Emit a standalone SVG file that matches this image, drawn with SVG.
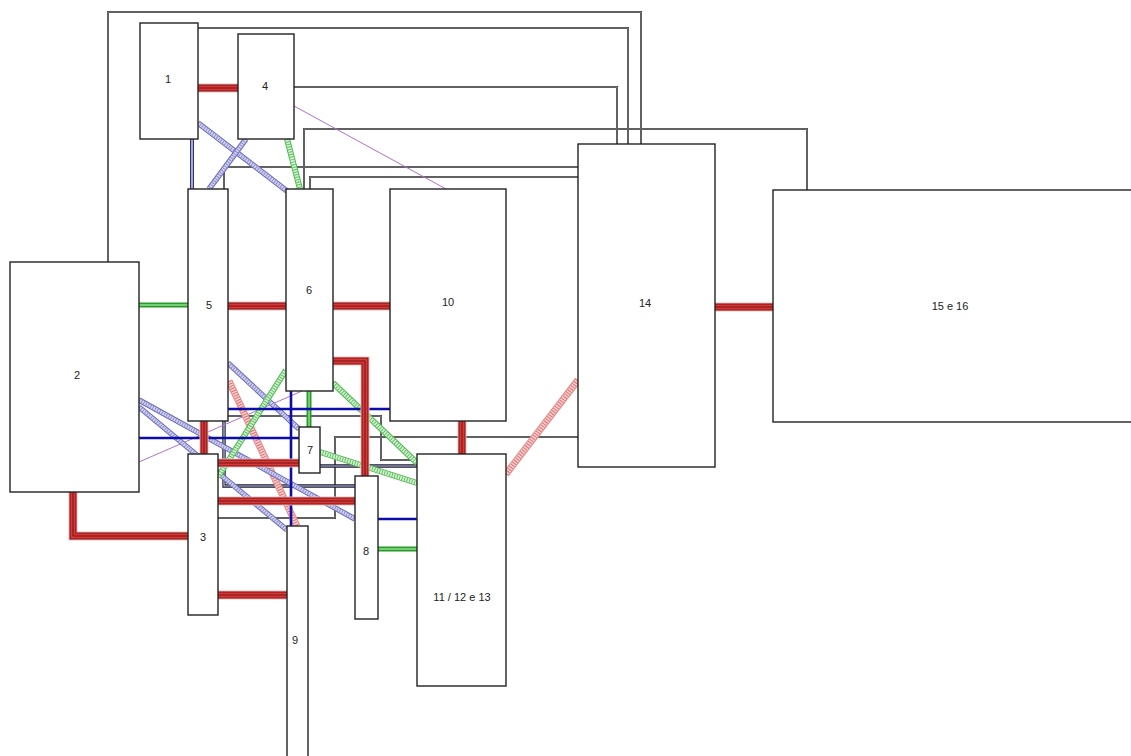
<svg xmlns="http://www.w3.org/2000/svg" xmlns:xlink="http://www.w3.org/1999/xlink" width="1131" height="756" viewBox="0 0 1131 756">
<style>
.node rect{fill:#fff;stroke:#222;stroke-width:1.4}
.node text{font-family:"Liberation Sans",Arial,sans-serif;font-size:11px;fill:#222;text-anchor:middle;dominant-baseline:middle}
path,use{fill:none}
.g0{stroke:#444;stroke-width:2}
.g1{stroke:#aaa;stroke-width:0.6}
.k0{stroke:#1a1a3a;stroke-width:3.4}
.k1{stroke:#c8c8d4;stroke-width:1.2}
.r0{stroke:#f4b8b8;stroke-width:9}
.r1{stroke:#6e1717;stroke-width:7}
.r2{stroke:#e03535;stroke-width:5}
.r3{stroke:#6e1717;stroke-width:1}
.ph0{stroke:#e38a8a;stroke-width:7}
.ph1{stroke:#f8d0d0;stroke-width:5}
.ph2{stroke:#e07070;stroke-width:5;stroke-dasharray:1 1.6}
.gh0{stroke:#4cb84c;stroke-width:6}
.gh1{stroke:#d8f2d8;stroke-width:4}
.gh2{stroke:#5cc05c;stroke-width:4;stroke-dasharray:1 1.6}
.bh0{stroke:#6a6ab8;stroke-width:5.5}
.bh1{stroke:#d4d4ee;stroke-width:3.5}
.bh2{stroke:#8a8ad0;stroke-width:3.5;stroke-dasharray:1 1.6}
.gs0{stroke:#2a9a2a;stroke-width:5}
.gs1{stroke:#8fe08f;stroke-width:1.4}
.bs{stroke:#0c0ca8;stroke-width:2.6}
.bd0{stroke:#303080;stroke-width:4}
.bd1{stroke:#c8c8e0;stroke-width:1.6}
.pu{stroke:#b070d0;stroke-width:1}
</style>
<defs>
<path id="g1" d="M108,262 V12 H641 V144"/>
<path id="g2" d="M198,28 H628 V144"/>
<path id="g3" d="M294,87 H617 V144"/>
<path id="g4" d="M304,189 V129 H807 V190"/>
<path id="g5" d="M224,189 V167 H578"/>
<path id="g6" d="M310,189 V177 H578"/>
<path id="g7" d="M218,518 H335 V437 H578"/>
<path id="g8" d="M228,416 H381 V460 H417"/>
<path id="k9" d="M320,466 H417"/>
<path id="k10" d="M224,421 V486 H355"/>
<path id="r1" d="M198,88 H238"/>
<path id="r2" d="M228,306 H286"/>
<path id="r3" d="M333,306 H390"/>
<path id="r4" d="M715,307 H773"/>
<path id="r5" d="M333,361 H365 V476"/>
<path id="r6" d="M462,421 V454"/>
<path id="r7" d="M73,492 V536 H188"/>
<path id="r8" d="M218,595 H287"/>
<path id="r9" d="M204,421 V454"/>
<path id="r10" d="M218,463 H299"/>
<path id="r11" d="M218,501 H355"/>
<path id="ph1" d="M506,474 L578,380"/>
<path id="ph2" d="M229,381 L297,526"/>
<path id="gh1" d="M287,139 L300,189"/>
<path id="gh2" d="M218,477 L286,370"/>
<path id="gh3" d="M333,383 L417,463"/>
<path id="gh4" d="M320,452 L417,483"/>
<path id="gs1" d="M139,305 H188"/>
<path id="gs2" d="M309,391 V427"/>
<path id="gs3" d="M378,549 H417"/>
<path id="bh1" d="M198,123 L287,191"/>
<path id="bh2" d="M246,139 L209,189"/>
<path id="bh3" d="M139,400 L355,519"/>
<path id="bh4" d="M139,407 L287,530"/>
<path id="bh5" d="M228,363 L299,429"/>
<path id="bd1" d="M192,139 V189"/>
</defs>
<rect width="1131" height="756" fill="#fff"/>
<g id="connectors">
<use href="#g1" class="g0"/><use href="#g1" class="g1"/>
<use href="#g2" class="g0"/><use href="#g2" class="g1"/>
<use href="#g3" class="g0"/><use href="#g3" class="g1"/>
<use href="#g4" class="g0"/><use href="#g4" class="g1"/>
<use href="#g5" class="g0"/><use href="#g5" class="g1"/>
<use href="#g6" class="g0"/><use href="#g6" class="g1"/>
<use href="#g7" class="g0"/><use href="#g7" class="g1"/>
<use href="#g8" class="g0"/><use href="#g8" class="g1"/>
<use href="#k9" class="k0"/><use href="#k9" class="k1"/>
<use href="#k10" class="k0"/><use href="#k10" class="k1"/>
<path class="pu" d="M294,106 L446,189"/>
<path class="pu" d="M139,462 L302,391"/>
<use href="#ph1" class="ph0"/><use href="#ph1" class="ph1"/><use href="#ph1" class="ph2"/>
<use href="#ph2" class="ph0"/><use href="#ph2" class="ph1"/><use href="#ph2" class="ph2"/>
<use href="#bh1" class="bh0"/><use href="#bh1" class="bh1"/><use href="#bh1" class="bh2"/>
<use href="#bh2" class="bh0"/><use href="#bh2" class="bh1"/><use href="#bh2" class="bh2"/>
<use href="#bh3" class="bh0"/><use href="#bh3" class="bh1"/><use href="#bh3" class="bh2"/>
<use href="#bh4" class="bh0"/><use href="#bh4" class="bh1"/><use href="#bh4" class="bh2"/>
<use href="#bh5" class="bh0"/><use href="#bh5" class="bh1"/><use href="#bh5" class="bh2"/>
<use href="#gh1" class="gh0"/><use href="#gh1" class="gh1"/><use href="#gh1" class="gh2"/>
<use href="#gh2" class="gh0"/><use href="#gh2" class="gh1"/><use href="#gh2" class="gh2"/>
<use href="#gh3" class="gh0"/><use href="#gh3" class="gh1"/><use href="#gh3" class="gh2"/>
<use href="#gh4" class="gh0"/><use href="#gh4" class="gh1"/><use href="#gh4" class="gh2"/>
<use href="#gs1" class="gs0"/><use href="#gs1" class="gs1"/>
<use href="#gs2" class="gs0"/><use href="#gs2" class="gs1"/>
<use href="#gs3" class="gs0"/><use href="#gs3" class="gs1"/>
<use href="#bd1" class="bd0"/><use href="#bd1" class="bd1"/>
<path class="bs" d="M228,409 H390"/>
<path class="bs" d="M139,438 H299"/>
<path class="bs" d="M291,391 V526"/>
<path class="bs" d="M378,519 H417"/>
<use href="#r1" class="r0"/><use href="#r1" class="r1"/><use href="#r1" class="r2"/><use href="#r1" class="r3"/>
<use href="#r2" class="r0"/><use href="#r2" class="r1"/><use href="#r2" class="r2"/><use href="#r2" class="r3"/>
<use href="#r3" class="r0"/><use href="#r3" class="r1"/><use href="#r3" class="r2"/><use href="#r3" class="r3"/>
<use href="#r4" class="r0"/><use href="#r4" class="r1"/><use href="#r4" class="r2"/><use href="#r4" class="r3"/>
<use href="#r5" class="r0"/><use href="#r5" class="r1"/><use href="#r5" class="r2"/><use href="#r5" class="r3"/>
<use href="#r6" class="r0"/><use href="#r6" class="r1"/><use href="#r6" class="r2"/><use href="#r6" class="r3"/>
<use href="#r7" class="r0"/><use href="#r7" class="r1"/><use href="#r7" class="r2"/><use href="#r7" class="r3"/>
<use href="#r8" class="r0"/><use href="#r8" class="r1"/><use href="#r8" class="r2"/><use href="#r8" class="r3"/>
<use href="#r9" class="r0"/><use href="#r9" class="r1"/><use href="#r9" class="r2"/><use href="#r9" class="r3"/>
<use href="#r10" class="r0"/><use href="#r10" class="r1"/><use href="#r10" class="r2"/><use href="#r10" class="r3"/>
<use href="#r11" class="r0"/><use href="#r11" class="r1"/><use href="#r11" class="r2"/><use href="#r11" class="r3"/>
</g>
<g id="node-1" class="node"><rect x="140" y="23" width="58" height="116"/><text x="168" y="80">1</text></g>
<g id="node-4" class="node"><rect x="238" y="34" width="56" height="105"/><text x="265" y="87">4</text></g>
<g id="node-5" class="node"><rect x="188" y="189" width="40" height="232"/><text x="209" y="306">5</text></g>
<g id="node-6" class="node"><rect x="286" y="189" width="47" height="202"/><text x="309" y="291">6</text></g>
<g id="node-10" class="node"><rect x="390" y="189" width="116" height="232"/><text x="448" y="303">10</text></g>
<g id="node-14" class="node"><rect x="578" y="144" width="137" height="323"/><text x="645" y="304">14</text></g>
<g id="node-15e16" class="node"><rect x="773" y="190" width="360" height="232"/><text x="950" y="307">15 e 16</text></g>
<g id="node-2" class="node"><rect x="10" y="262" width="129" height="230"/><text x="77" y="376">2</text></g>
<g id="node-7" class="node"><rect x="299" y="427" width="21" height="46"/><text x="310" y="451">7</text></g>
<g id="node-3" class="node"><rect x="188" y="454" width="30" height="161"/><text x="203" y="538">3</text></g>
<g id="node-8" class="node"><rect x="355" y="476" width="23" height="143"/><text x="366" y="552">8</text></g>
<g id="node-11" class="node"><rect x="417" y="454" width="89" height="232"/><text x="462" y="598">11 / 12 e 13</text></g>
<g id="node-9" class="node"><rect x="287" y="526" width="21" height="250"/><text x="295" y="641">9</text></g>
</svg>
